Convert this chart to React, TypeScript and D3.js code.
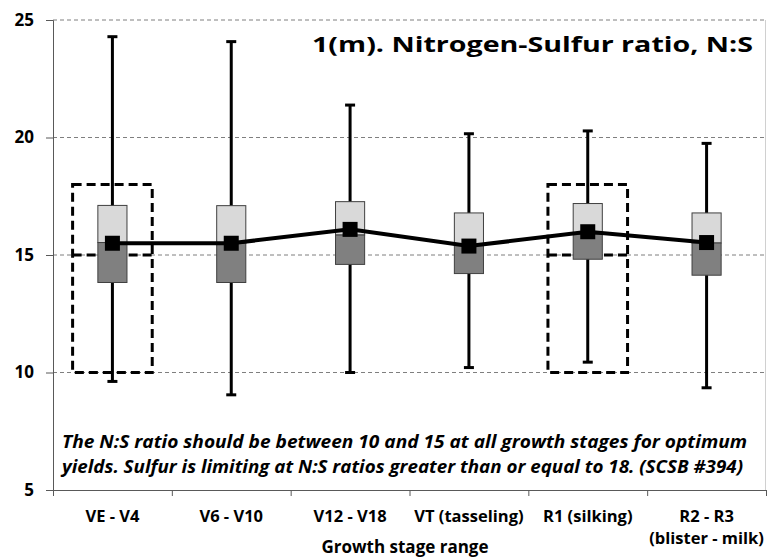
import React from "react";
import * as d3 from "d3";

// growth stages (second line only where the label wraps)
const categories = ["VE - V4", "V6 - V10", "V12 - V18", "VT (tasseling)", "R1 (silking)", "R2 - R3"];
const subLabels = ["", "", "", "", "", "(blister - milk)"];

const whiskerLow = [9.62, 9.05, 10.0, 10.21, 10.44, 9.35];
const whiskerHigh = [24.29, 24.08, 21.38, 20.16, 20.28, 19.75];
const q1 = [13.83, 13.83, 14.6, 14.21, 14.82, 14.14];
const q3 = [17.11, 17.1, 17.27, 16.79, 17.19, 16.79];
const median = [15.53, 15.5, 15.85, 15.4, 15.88, 15.51];
const mean = [15.5, 15.5, 16.09, 15.38, 15.99, 15.53];

// optimum range boxes (dashed)
const rangeCats = ["VE - V4", "R1 (silking)"];
const rangeLow = 10;
const rangeMid = 15;
const rangeHigh = 18;

const yTicks = [5, 10, 15, 20, 25];
const gridTicks = [10, 15, 20, 25];

const title = "1(m). Nitrogen-Sulfur ratio, N:S";
const note = [
  "The N:S ratio should be between 10 and 15 at all growth stages for optimum",
  "yields. Sulfur is limiting at N:S ratios greater than or equal to 18.  (SCSB #394)",
];
const noteWidths = [685, 681];
const xTitle = "Growth stage range";

const FONT = "'Open Sans', 'Noto Sans', sans-serif";

const App = () => {
  const svgRef = React.useRef(null);
  const width = 767;
  const height = 558;
  const margin = { left: 53, right: 1, top: 20, bottom: 68 };

  React.useEffect(() => {
    const svgEl = d3.select(svgRef.current);
    svgEl.selectAll("*").remove();

    const x = d3.scaleBand().domain(categories).range([margin.left, width - margin.right]).padding(0);
    const xEdge = d3.scaleLinear().domain([0, categories.length]).range([margin.left, width - margin.right]);
    const y = d3.scaleLinear().domain([5, 25]).range([height - margin.bottom, margin.top]);
    const bw = x.bandwidth();
    const cx = (c) => x(c) + bw / 2;

    // grid lines
    svgEl.append("g")
      .selectAll("line")
      .data(gridTicks)
      .enter()
      .append("line")
      .attr("x1", margin.left)
      .attr("x2", width - margin.right)
      .attr("y1", (d) => y(d))
      .attr("y2", (d) => y(d))
      .attr("stroke", "#7f7f7f")
      .attr("stroke-width", 1)
      .attr("stroke-dasharray", "4,3");

    // right border
    svgEl.append("line")
      .attr("x1", width - margin.right - 0.5)
      .attr("x2", width - margin.right - 0.5)
      .attr("y1", y(25))
      .attr("y2", y(5))
      .attr("stroke", "#d0d0d0");

    // y axis
    const yAxis = d3.axisLeft(y).tickValues(yTicks).tickSize(7).tickFormat((v) => `${v}`);
    const yg = svgEl.append("g")
      .attr("transform", `translate(${margin.left},0)`)
      .call(yAxis);
    yg.select(".domain").attr("stroke", "#595959");
    yg.selectAll(".tick line").attr("stroke", "#595959");
    yg.selectAll(".tick text")
      .attr("x", -19)
      .attr("font-family", FONT)
      .attr("font-weight", "bold")
      .attr("font-size", 17)
      .attr("fill", "#000");

    // x axis (ticks at category boundaries)
    const xAxis = d3.axisBottom(xEdge).tickValues(d3.range(categories.length + 1)).tickSize(6).tickFormat(() => "");
    const xg = svgEl.append("g")
      .attr("transform", `translate(0,${y(5)})`)
      .call(xAxis);
    xg.select(".domain").attr("stroke", "#595959");
    xg.selectAll(".tick line").attr("stroke", "#595959");

    // category labels
    const labels = svgEl.append("g")
      .attr("font-family", FONT)
      .attr("font-weight", "bold")
      .attr("font-size", 16.5)
      .attr("text-anchor", "middle");
    labels.selectAll(".cat")
      .data(categories)
      .enter()
      .append("text")
      .attr("x", (d) => cx(d))
      .attr("y", 522)
      .text((d) => d);
    labels.selectAll(".sub")
      .data(subLabels)
      .enter()
      .append("text")
      .attr("x", (d, i) => cx(categories[i]))
      .attr("y", 544)
      .text((d) => d);

    svgEl.append("text")
      .attr("x", 405)
      .attr("y", 553)
      .attr("text-anchor", "middle")
      .attr("font-family", FONT)
      .attr("font-weight", "bold")
      .attr("font-size", 17)
      .text(xTitle);

    // dashed optimum boxes
    const rw = bw * 0.67;
    const rg = svgEl.append("g")
      .attr("fill", "none")
      .attr("stroke", "#000")
      .attr("stroke-width", 3)
      .attr("stroke-dasharray", "9,5");
    rg.selectAll("rect")
      .data(rangeCats)
      .enter()
      .append("rect")
      .attr("x", (d) => cx(d) - rw / 2)
      .attr("y", y(rangeHigh))
      .attr("width", rw)
      .attr("height", y(rangeLow) - y(rangeHigh));
    rg.selectAll("line")
      .data(rangeCats)
      .enter()
      .append("line")
      .attr("x1", (d) => cx(d) - rw / 2)
      .attr("x2", (d) => cx(d) + rw / 2)
      .attr("y1", y(rangeMid))
      .attr("y2", y(rangeMid));

    // whiskers
    const wg = svgEl.append("g").attr("stroke", "#000").attr("stroke-width", 3);
    wg.selectAll(".w")
      .data(categories)
      .enter()
      .append("line")
      .attr("x1", (d) => cx(d))
      .attr("x2", (d) => cx(d))
      .attr("y1", (d, i) => y(whiskerLow[i]))
      .attr("y2", (d, i) => y(whiskerHigh[i]));
    wg.selectAll(".capHi")
      .data(categories)
      .enter()
      .append("line")
      .attr("x1", (d) => cx(d) - 5)
      .attr("x2", (d) => cx(d) + 5)
      .attr("y1", (d, i) => y(whiskerHigh[i]))
      .attr("y2", (d, i) => y(whiskerHigh[i]));
    wg.selectAll(".capLo")
      .data(categories)
      .enter()
      .append("line")
      .attr("x1", (d) => cx(d) - 5)
      .attr("x2", (d) => cx(d) + 5)
      .attr("y1", (d, i) => y(whiskerLow[i]))
      .attr("y2", (d, i) => y(whiskerLow[i]));

    // boxes: upper half light, lower half dark
    const boxW = bw * 0.245;
    const bg = svgEl.append("g").attr("stroke", "#404040").attr("stroke-width", 1);
    bg.selectAll(".upper")
      .data(categories)
      .enter()
      .append("rect")
      .attr("x", (d) => cx(d) - boxW / 2)
      .attr("y", (d, i) => y(q3[i]))
      .attr("width", boxW)
      .attr("height", (d, i) => y(median[i]) - y(q3[i]))
      .attr("fill", "#d9d9d9");
    bg.selectAll(".lower")
      .data(categories)
      .enter()
      .append("rect")
      .attr("x", (d) => cx(d) - boxW / 2)
      .attr("y", (d, i) => y(median[i]))
      .attr("width", boxW)
      .attr("height", (d, i) => y(q1[i]) - y(median[i]))
      .attr("fill", "#808080");

    // mean line + markers
    const line = d3.line()
      .x((d, i) => cx(categories[i]))
      .y((d) => y(d));
    svgEl.append("path")
      .attr("d", line(mean))
      .attr("fill", "none")
      .attr("stroke", "#000")
      .attr("stroke-width", 4);
    svgEl.append("g")
      .selectAll("rect")
      .data(mean)
      .enter()
      .append("rect")
      .attr("x", (d, i) => cx(categories[i]) - 7.5)
      .attr("y", (d) => y(d) - 7.5)
      .attr("width", 15)
      .attr("height", 15)
      .attr("fill", "#000");

    // title
    svgEl.append("text")
      .attr("x", 753)
      .attr("y", 52)
      .attr("text-anchor", "end")
      .attr("font-family", FONT)
      .attr("font-weight", "bold")
      .attr("font-size", 22)
      .attr("textLength", 441)
      .attr("lengthAdjust", "spacingAndGlyphs")
      .text(title);

    // note
    svgEl.append("g")
      .attr("font-family", FONT)
      .attr("font-weight", "bold")
      .attr("font-style", "italic")
      .attr("font-size", 18)
      .style("white-space", "pre")
      .selectAll("text")
      .data(note)
      .enter()
      .append("text")
      .attr("x", 62)
      .attr("y", (d, i) => 448 + i * 25)
      .attr("textLength", (d, i) => noteWidths[i])
      .attr("lengthAdjust", "spacingAndGlyphs")
      .text((d) => d);
  }, []);

  return (
    <svg
      ref={svgRef}
      width={width}
      height={height}
      style={{ position: "absolute", left: 0, top: 0, background: "#fff" }}
    />
  );
};

export default App;
